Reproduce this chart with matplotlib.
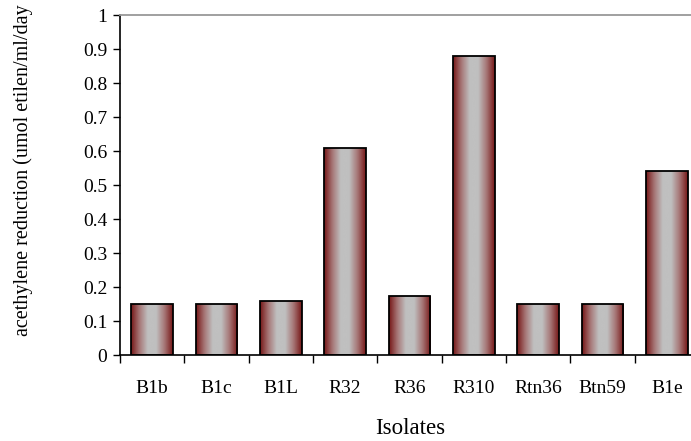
import numpy as np
import matplotlib.pyplot as plt
from matplotlib.colors import LinearSegmentedColormap

plt.rcParams['font.family'] = ['Liberation Serif', 'DejaVu Serif']

isolates = ['B1b', 'B1c', 'B1L', 'R32', 'R36', 'R310', 'Rtn36', 'Btn59', 'B1e']
reduction = [0.15, 0.15, 0.16, 0.61, 0.175, 0.88, 0.15, 0.15, 0.54]

fig = plt.figure(figsize=(6.91, 4.41), dpi=100)
# right edge of the plot runs past the picture, like the original
ax = fig.add_axes([120 / 691, 86 / 441, 579 / 691, 340 / 441])

x = np.arange(len(isolates))
bars = ax.bar(x, reduction, width=0.65, facecolor='none',
              edgecolor='black', linewidth=1.3, zorder=3)

# horizontal gradient: dark red at edges, silver in the middle
cmap = LinearSegmentedColormap.from_list(
    'rg', ['#761616', '#a67676', '#c0c0c0', '#c0c0c0', '#a67676', '#761616'])
grad = np.linspace(0, 1, 256).reshape(1, -1)
for b in bars:
    x0, y0 = b.get_x(), b.get_y()
    w, h = b.get_width(), b.get_height()
    im = ax.imshow(grad, cmap=cmap, aspect='auto', extent=[x0, x0 + w, y0, y0 + h],
                   zorder=2, interpolation='bicubic')
    im.set_clip_path(b)

ax.set_xlim(-0.5, len(isolates) - 0.5)
ax.set_ylim(0, 1)
ax.set_yticks(np.arange(0, 1.01, 0.1))
ax.set_yticklabels(['0', '0.1', '0.2', '0.3', '0.4', '0.5', '0.6', '0.7', '0.8', '0.9', '1'])
ax.set_xticks(x)
ax.set_xticklabels(isolates)
ax.set_xticks(np.arange(-0.5, len(isolates), 1), minor=True)
ax.tick_params(axis='x', which='major', length=0, pad=18, labelsize=14)
ax.tick_params(axis='x', which='minor', length=6, width=1, direction='out')
ax.tick_params(axis='y', length=5, width=1, direction='out', labelsize=14, pad=4)

ax.spines['right'].set_visible(False)
ax.spines['top'].set_color('#999999')
ax.spines['top'].set_linewidth(1.3)
ax.spines['left'].set_linewidth(1.2)
ax.spines['bottom'].set_linewidth(1.2)

fig.text(410 / 691, 1 - 428 / 441, 'Isolates', fontsize=16.5, ha='center', va='center')
fig.text(23 / 691, 1 - 170 / 441, 'acethylene reduction (umol etilen/ml/day',
         fontsize=14.5, rotation=90, ha='center', va='center')

fig.savefig('out.png', dpi=100)
